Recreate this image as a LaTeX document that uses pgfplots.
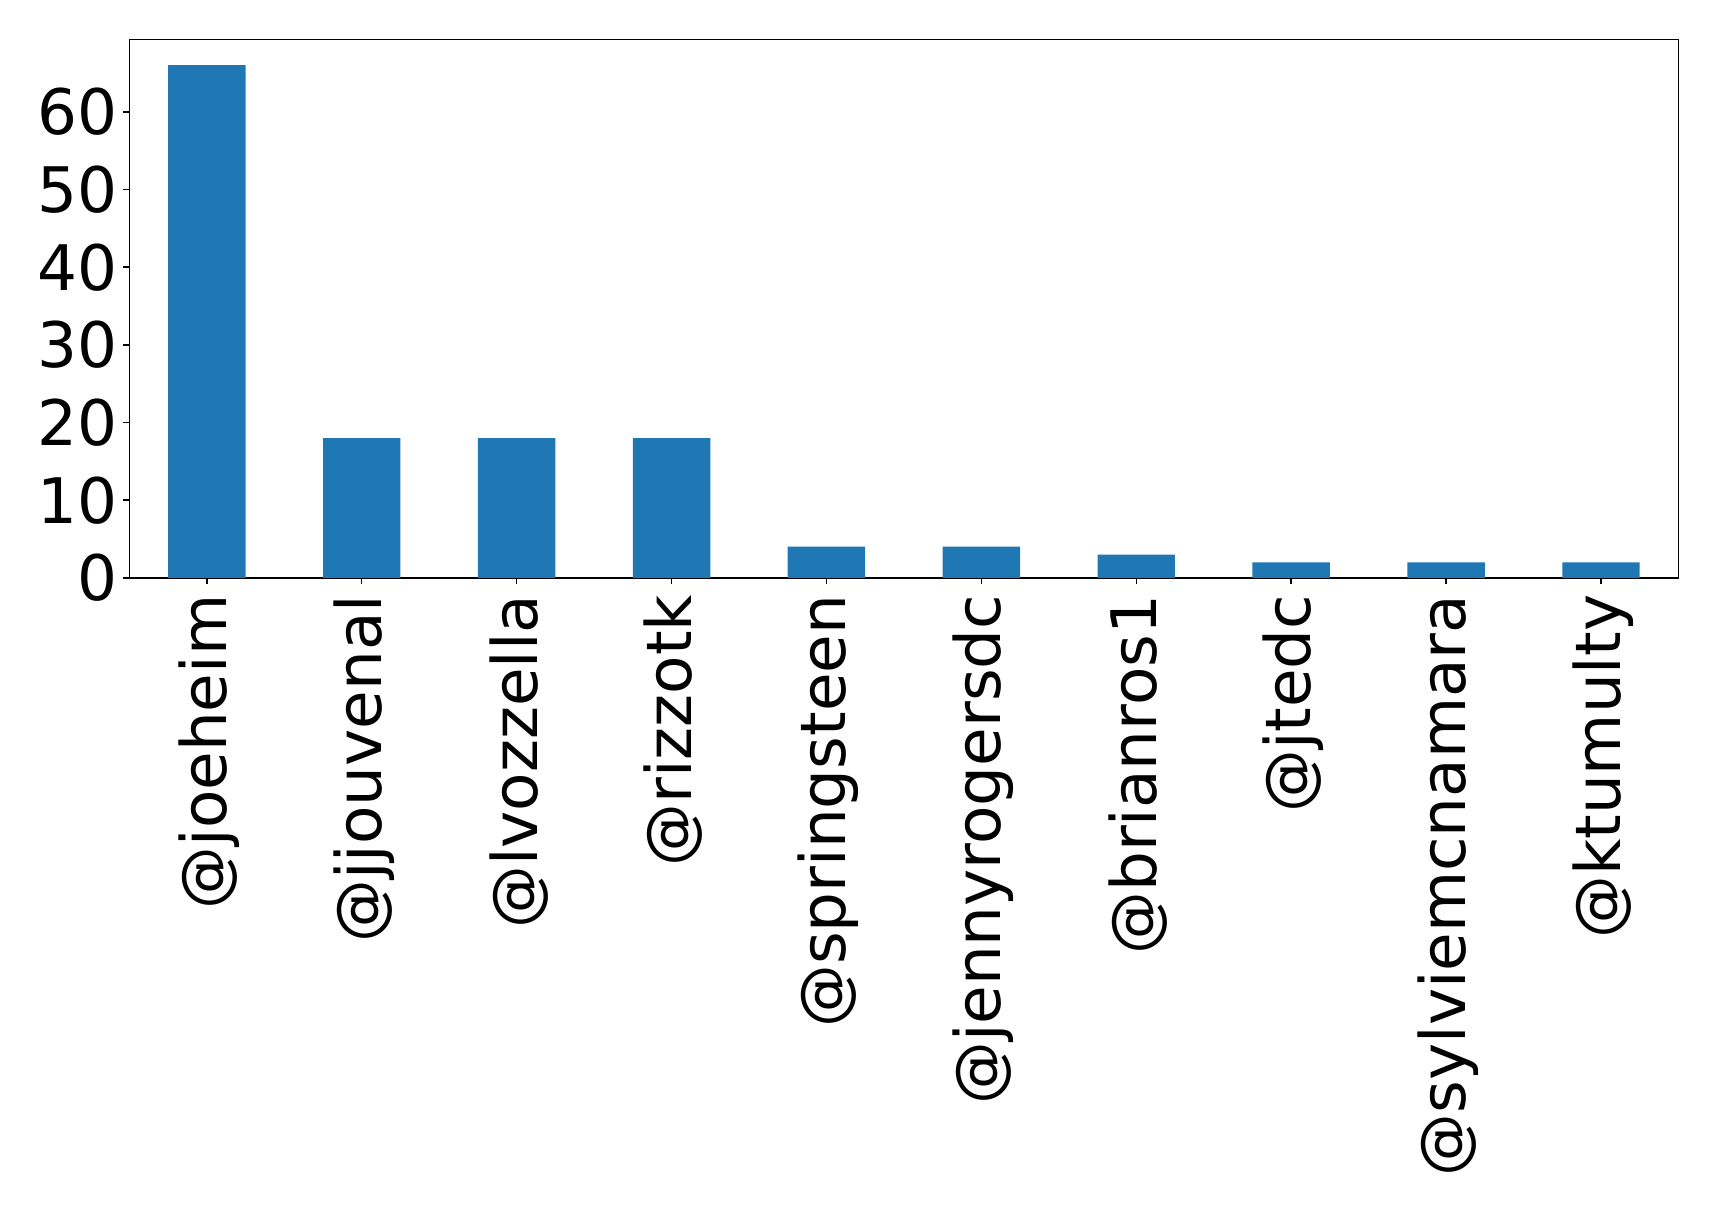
\documentclass[border=0pt]{standalone}
\usepackage{pgfplots}
\pgfplotsset{compat=1.18}
\usepackage{fontspec}
\setmainfont{DejaVu Sans}
\definecolor{mplblue}{HTML}{1F77B4}
\begin{document}
\begin{tikzpicture}
\useasboundingbox (0,0) rectangle (859.5pt,603pt);
\begin{axis}[
  at={(64.7pt,314.1pt)}, anchor=south west,
  width=774.5pt, height=269.1pt, scale only axis,
  xmin=-0.5, xmax=9.5, ymin=0, ymax=69.3,
  axis line style={line width=0.7pt},
  xtick={0,...,9},
  xticklabels={@joeheim,@jjouvenal,@lvozzella,@rizzotk,@springsteen,@jennyrogersdc,@brianros1,@jtedc,@sylviemcnamara,@ktumulty},
  ytick={0,10,...,60},
  tick align=outside, tick pos=left,
  major tick length=3pt,
  tick style={line width=0.7pt, black},
  /pgf/number format/assume math mode=true,
  ticklabel style={font=\fontsize{31.4}{37}\selectfont},
  x tick label style={rotate=90, anchor=east, inner sep=0pt, outer sep=0pt, xshift=-5.5pt, yshift=-1pt},
  y tick label style={inner sep=0pt, xshift=-2.6pt},
]
\addplot[ybar, bar width=0.5, fill=mplblue, draw=none] coordinates {
 (0,66) (1,18) (2,18) (3,18) (4,4) (5,4) (6,3) (7,2) (8,2) (9,2)
};
\end{axis}
\end{tikzpicture}
\end{document}
